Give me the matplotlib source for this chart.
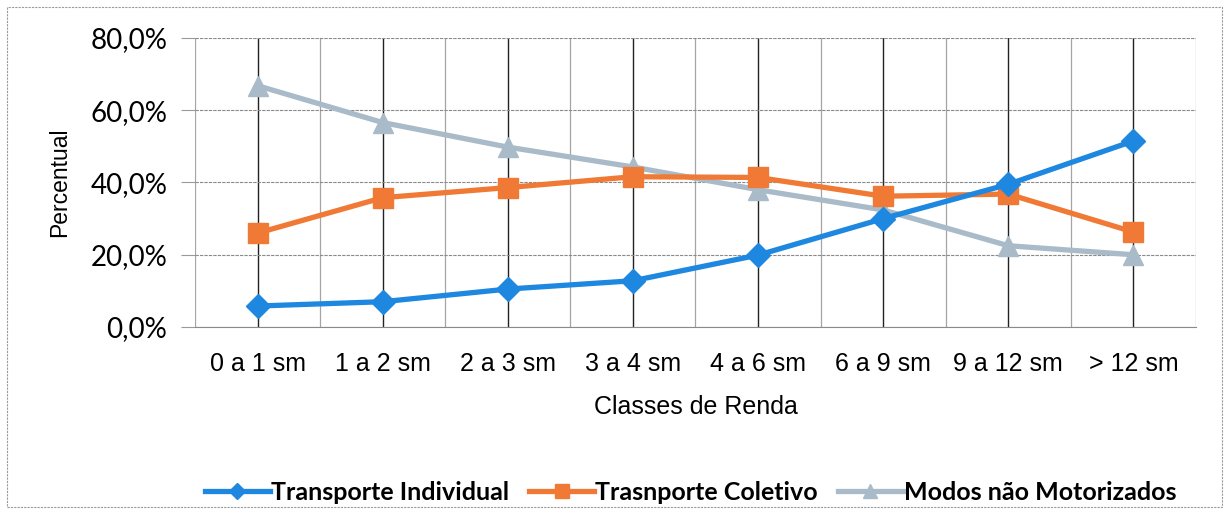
import matplotlib
matplotlib.use("Agg")
import matplotlib.pyplot as plt
from matplotlib.patches import Rectangle
from matplotlib.ticker import FuncFormatter, MultipleLocator

categories = ["0 a 1 sm", "1 a 2 sm", "2 a 3 sm", "3 a 4 sm", "4 a 6 sm", "6 a 9 sm", "9 a 12 sm", "> 12 sm"]
individual = [5.8, 7.0, 10.5, 12.8, 19.9, 30.0, 39.5, 51.5]
coletivo = [26.0, 35.8, 38.6, 41.6, 41.4, 36.2, 36.8, 26.3]
nao_motor = [66.8, 56.6, 49.8, 44.3, 38.0, 32.4, 22.5, 20.0]
series_names = ["Transporte Individual", "Trasnporte Coletivo", "Modos não Motorizados"]
yticks = [0, 20, 40, 60, 80]

fig = plt.figure(figsize=(12.29, 5.13), dpi=100)
fig.patches.append(Rectangle((0.006, 0.012), 0.988, 0.974, transform=fig.transFigure,
                             fill=False, edgecolor="#9a9a9a", lw=0.8, linestyle=(0, (2, 1))))
ax = fig.add_axes([0.1587, 0.3626, 0.8144, 0.5633])

x = list(range(len(categories)))
ax.plot(x, individual, color="#1E88E0", lw=3.8, marker="D", ms=12, label=series_names[0], zorder=5)
ax.plot(x, coletivo, color="#F07A35", lw=3.8, marker="s", ms=14, label=series_names[1], zorder=4)
ax.plot(x, nao_motor, color="#A9BAC9", lw=3.8, marker="^", ms=14, label=series_names[2], zorder=3)

ax.set_xlim(-0.5, len(categories) - 0.5)
ax.set_ylim(0, 80)
ax.set_yticks(yticks)
ax.yaxis.set_major_formatter(FuncFormatter(lambda v, p: f"{v:.1f}%".replace(".", ",")))
ax.set_xticks(x)
ax.set_xticklabels(categories)
ax.xaxis.set_minor_locator(MultipleLocator(1, offset=0.5))

ax.grid(True, axis="y", which="major", color="#8a8a8a", lw=0.8, linestyle=(0, (3, 1)))
ax.grid(True, axis="x", which="major", color="#222222", lw=1.0)
ax.grid(True, axis="x", which="minor", color="#a5a5a5", lw=0.9)
for s in ["top", "right", "left"]:
    ax.spines[s].set_visible(False)
ax.spines["bottom"].set_color("#8a8a8a")
ax.spines["bottom"].set_linestyle((0, (3, 1)))
ax.tick_params(axis="x", which="both", length=0, pad=18)
ax.tick_params(axis="y", length=10, color="#9a9a9a", pad=10)
for lab in ax.get_yticklabels():
    lab.set_fontfamily("Lato")
    lab.set_fontsize(20)
for lab in ax.get_xticklabels():
    lab.set_fontfamily("Liberation Sans")
    lab.set_fontsize(18)

ax.set_ylabel("Percentual", fontfamily="Liberation Sans", fontsize=16.5, labelpad=14)
ax.set_xlabel("Classes de Renda", fontfamily="Liberation Sans", fontsize=18, labelpad=14)

leg = fig.legend(loc="center", bbox_to_anchor=(0.562, 0.04), ncol=3, frameon=False,
                 prop={"family": "Lato", "weight": "bold", "size": 18},
                 handlelength=2.6, handletextpad=0.05, columnspacing=0.8, markerscale=0.7)

fig.savefig("out.png", dpi=100)
